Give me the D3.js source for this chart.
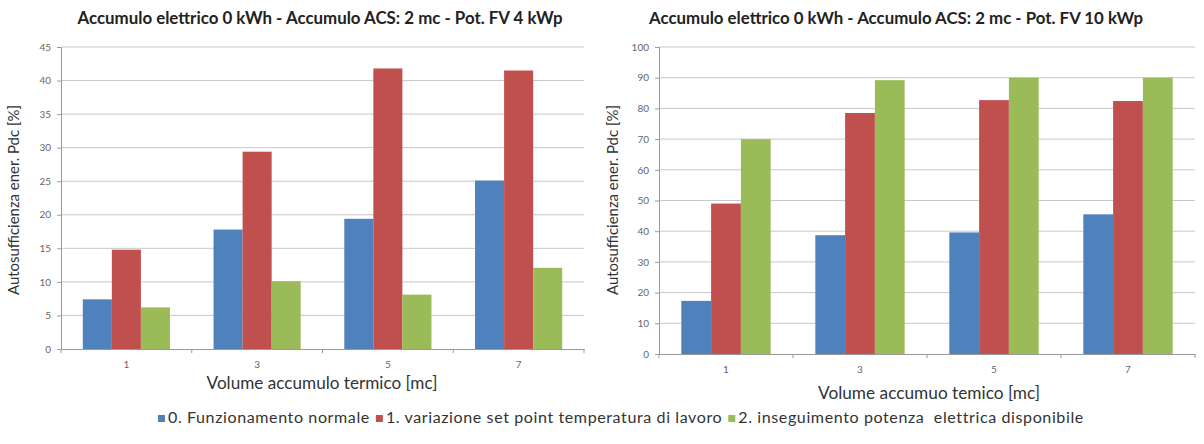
<!DOCTYPE html>
<html><head><meta charset="utf-8">
<script src="https://cdn.jsdelivr.net/npm/d3@7"></script>
<style>
body{margin:0;background:#fff;}
svg{display:block;font-family:Lato,"Open Sans",sans-serif;}
</style></head><body>
<svg id="c" width="1204" height="444"></svg>
<script>
const categories = ["1","3","5","7"];
const seriesNames = ["0. Funzionamento normale","1. variazione set point temperatura di lavoro","2. inseguimento potenza  elettrica disponibile"];
const colors = ["#4F81BD","#C0504D","#9BBB59"];

// Chart 1: FV 4 kWp
const title1 = "Accumulo elettrico 0 kWh - Accumulo ACS: 2 mc - Pot. FV 4 kWp";
const xTitle1 = "Volume accumulo termico [mc]";
const yTicks1 = [0,5,10,15,20,25,30,35,40,45];
const s0_fv4 = [7.4, 17.8, 19.4, 25.1];
const s1_fv4 = [14.8, 29.4, 41.8, 41.5];
const s2_fv4 = [6.2, 10.1, 8.1, 12.1];

// Chart 2: FV 10 kWp
const title2 = "Accumulo elettrico 0 kWh - Accumulo ACS: 2 mc - Pot. FV 10 kWp";
const xTitle2 = "Volume accumuo temico [mc]";
const yTicks2 = [0,10,20,30,40,50,60,70,80,90,100];
const s0_fv10 = [17.3, 38.7, 39.6, 45.5];
const s1_fv10 = [49.0, 78.5, 82.7, 82.4];
const s2_fv10 = [70.0, 89.2, 90.0, 90.0];

const yTitle = "Autosufficienza ener. Pdc [%]";

const svg = d3.select("#c");

function fitText(sel, targetW){
  const w = sel.node().getComputedTextLength();
  const fs = parseFloat(sel.attr("font-size"));
  sel.attr("font-size", (fs*targetW/w).toFixed(2));
}

function drawChart(o){
  const g = svg.append("g");
  const x0 = d3.scaleBand().domain(categories).range([o.left,o.right]).padding(0);
  const x1 = d3.scaleBand().domain(d3.range(3)).range([0,x0.bandwidth()]).paddingInner(0).paddingOuter(0.75);
  const y = d3.scaleLinear().domain([0,d3.max(o.ticks)]).range([o.bottom,o.top]);

  g.append("g").selectAll("line").data(o.ticks.filter(t=>t>0)).join("line")
    .attr("x1",o.left).attr("x2",o.right)
    .attr("y1",d=>y(d)).attr("y2",d=>y(d))
    .attr("stroke","#c8c8c8").attr("stroke-width",1);

  const ya = g.append("g").attr("transform",`translate(${o.left},0)`)
    .call(d3.axisLeft(y).tickValues(o.ticks).tickSize(4).tickPadding(6));
  ya.select(".domain").attr("stroke","#9a9a9a");
  ya.selectAll(".tick line").attr("stroke","#9a9a9a");
  ya.selectAll(".tick text").attr("fill","#666").attr("font-size",10).attr("font-family","Lato,sans-serif");

  g.append("g").selectAll("g").data(o.series).join("g")
    .attr("fill",(d,i)=>colors[i])
    .selectAll("rect").data((d,i)=>d.map((v,j)=>({v,j,i}))).join("rect")
    .attr("x",d=>x0(categories[d.j])+x1(d.i))
    .attr("width",x1.bandwidth())
    .attr("y",d=>y(d.v))
    .attr("height",d=>o.bottom-y(d.v));

  const xa = g.append("g").attr("transform",`translate(0,${o.bottom})`)
    .call(d3.axisBottom(x0).tickSize(0).tickPadding(12));
  xa.select(".domain").attr("stroke","#9a9a9a");
  xa.selectAll(".tick text").attr("fill","#666").attr("font-size",10).attr("font-family","Lato,sans-serif");
  g.append("g").selectAll("line").data(d3.range(categories.length+1)).join("line")
    .attr("x1",i=>o.left+i*x0.bandwidth()).attr("x2",i=>o.left+i*x0.bandwidth())
    .attr("y1",o.bottom).attr("y2",o.bottom+4).attr("stroke","#9a9a9a");

  const t = g.append("text").attr("x",o.titleX).attr("y",o.titleY)
    .attr("text-anchor","middle").attr("font-weight","bold").attr("font-size",12)
    .attr("fill","#222").text(o.title);
  fitText(t,o.titleW);

  const xt = g.append("text").attr("x",o.xTitleX).attr("y",o.xTitleY)
    .attr("text-anchor","middle").attr("font-size",12).attr("fill","#333").text(o.xTitle);
  fitText(xt,o.xTitleW);

  const yt = g.append("text").attr("transform",`translate(${o.yTitleX},${o.yTitleY}) rotate(-90)`)
    .attr("text-anchor","middle").attr("font-size",11).attr("fill","#333").text(yTitle);
  fitText(yt,o.yTitleW);
}

drawChart({left:61,right:584,top:47,bottom:349,ticks:yTicks1,
  series:[s0_fv4,s1_fv4,s2_fv4],
  title:title1,titleX:320,titleY:24,titleW:485,
  xTitle:xTitle1,xTitleX:322,xTitleY:389,xTitleW:231,
  yTitleX:19,yTitleY:200,yTitleW:190});

drawChart({left:659,right:1195,top:47,bottom:354,ticks:yTicks2,
  series:[s0_fv10,s1_fv10,s2_fv10],
  title:title2,titleX:896,titleY:24,titleW:494,
  xTitle:xTitle2,xTitleX:929,xTitleY:399,xTitleW:222,
  yTitleX:618,yTitleY:200,yTitleW:190});

// legend
const legStart = 158, legEnd = 1085;
const leg = svg.append("g").attr("transform",`translate(${legStart},423)`);
const texts = [];
seriesNames.forEach((n,i)=>{
  const gi = leg.append("g");
  gi.append("rect").attr("x",0).attr("y",-8).attr("width",7).attr("height",7).attr("fill",colors[i]);
  const tx = gi.append("text").attr("x",10).attr("y",0).attr("fill","#333").attr("letter-spacing",0.6)
    .attr("xml:space","preserve").style("white-space","pre").text(n);
  texts.push({gi,tx});
});
function layoutLegend(fs){
  let lx = 0;
  texts.forEach(({gi,tx})=>{
    tx.attr("font-size",fs);
    gi.attr("transform",`translate(${lx},0)`);
    lx += 10 + tx.node().getComputedTextLength() + 6;
  });
  return lx - 6;
}
const natural = layoutLegend(11);
const spacingW = 0.6*d3.sum(seriesNames,s=>s.length);
const fixedW = 3*10 + 2*6;
layoutLegend(11*((legEnd-legStart)-fixedW-spacingW)/(natural-fixedW-spacingW));
</script>
</body></html>
